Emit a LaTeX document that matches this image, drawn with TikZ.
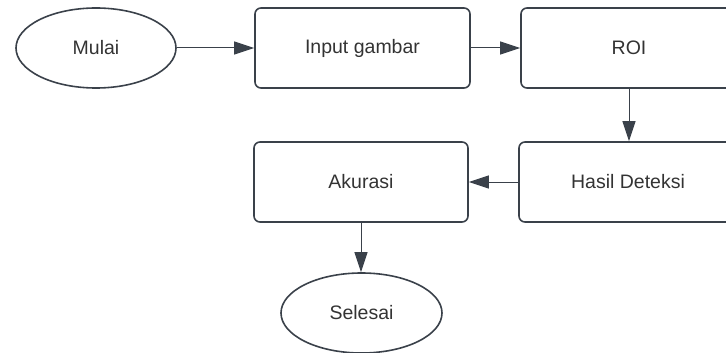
\documentclass[tikz,border=0pt]{standalone}
\usepackage{fontspec}
\setmainfont{Liberation Sans}
\usetikzlibrary{shapes.geometric,arrows.meta}
\definecolor{linec}{HTML}{3A414A}
\definecolor{textc}{HTML}{333333}
\begin{document}
\begin{tikzpicture}[x=1pt,y=-1pt,
  proc/.style={draw=linec,line width=1.6pt,rounded corners=6pt,minimum width=#1,minimum height=80pt,inner sep=0pt,text=textc,font=\fontsize{19.5}{23}\selectfont},
  term/.style={draw=linec,line width=1.6pt,ellipse,minimum width=160pt,minimum height=80pt,inner sep=0pt,text=textc,font=\fontsize{19.5}{23}\selectfont},
  conn/.style={draw=linec,line width=1pt,-{Triangle[length=20pt,width=13pt]}}]
\useasboundingbox (0,0) rectangle (726,353);
\clip (0,0) rectangle (726,353);
\node[term] (mulai) at (96,48) {Mulai};
\node[proc=215pt] (input) at (362.5,48) {Input gambar};
\node[proc=216pt] (roi) at (629,48) {ROI};
\node[proc=218pt] (hasil) at (628,182) {Hasil Deteksi};
\node[proc=214pt] (akurasi) at (361,182) {Akurasi};
\node[term,minimum width=161pt] (selesai) at (361.5,313) {Selesai};
\draw[conn] (mulai) -- (input);
\draw[conn] (input) -- (roi);
\draw[conn] (roi.south) ++(0,0) coordinate (r1) (r1) -- (r1 |- hasil.north);
\draw[conn] (hasil) -- (akurasi);
\draw[conn] (akurasi.south) coordinate (a1) (a1) -- (a1 |- selesai.north);
\end{tikzpicture}
\end{document}
